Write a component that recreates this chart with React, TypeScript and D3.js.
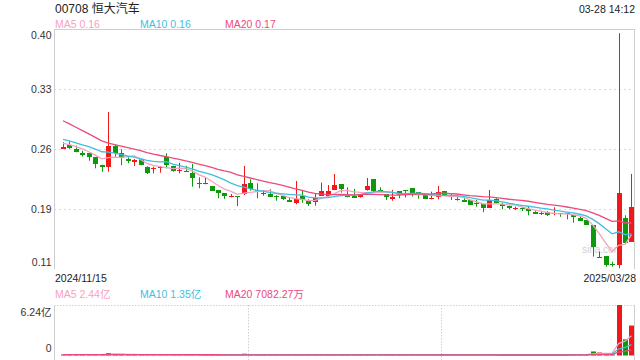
import React from 'react';
import * as d3 from 'd3';

// ---- data ----
const title = '00708 恒大汽车';
const timeLabel = '03-28 14:12';
const dateLabels = ['2024/11/15', '2025/03/28'];
const maNames = ['MA5', 'MA10', 'MA20'];
const maPeriods = [5, 10, 20];
const priceMaTexts = ['0.16', '0.16', '0.17'];
const volumeMaTexts = ['2.44亿', '1.35亿', '7082.27万'];
const priceTickLabels = ['0.40', '0.33', '0.26', '0.19', '0.11'];
const priceDomain = [0.114, 0.4];
const volumeTickLabels = ['6.24亿', '0'];
const volumeMax = 6.24; // 亿
const watermark = 'sina.com';

// closes of the 19 sessions before the first visible candle (MA warm-up)
const priorCloses = [0.335, 0.332, 0.33, 0.326, 0.322, 0.318, 0.316, 0.29, 0.282, 0.277,
  0.278, 0.276, 0.273, 0.271, 0.269, 0.266, 0.265, 0.264, 0.2643];
const priorVolumes = [0.12, 0.1, 0.09, 0.14, 0.11, 0.08, 0.1, 0.13, 0.09, 0.08,
  0.11, 0.1, 0.09, 0.12, 0.08, 0.1, 0.09, 0.11, 0.1];

const opens = [0.257, 0.262, 0.257, 0.252, 0.252, 0.2475, 0.238, 0.235, 0.261, 0.252,
  0.245, 0.242, 0.245, 0.236, 0.233, 0.235, 0.247, 0.237, 0.231, 0.231,
  0.228, 0.217, 0.216, 0.213, 0.208, 0.205, 0.2, 0.201, 0.203, 0.2165,
  0.208, 0.204, 0.203, 0.2007, 0.201, 0.1966, 0.193, 0.201, 0.195, 0.1935,
  0.2014, 0.201, 0.208, 0.2153, 0.201, 0.201, 0.2, 0.208, 0.221, 0.208,
  0.2034, 0.198, 0.2066, 0.208, 0.2105, 0.2058, 0.203, 0.197, 0.2, 0.2066,
  0.201, 0.1978, 0.1963, 0.1963, 0.193, 0.191, 0.187, 0.197, 0.192, 0.1895,
  0.185, 0.1863, 0.186, 0.1817, 0.179, 0.1816, 0.179, 0.1804, 0.181, 0.1784,
  0.1745, 0.1724, 0.1665, 0.128, 0.1295, 0.1196, 0.119, 0.175, 0.1466];
const closes = [0.2597, 0.2582, 0.253, 0.25, 0.2478, 0.2395, 0.2359, 0.2606, 0.2526, 0.246,
  0.2431, 0.2435, 0.2376, 0.2288, 0.234, 0.2356, 0.2383, 0.2312, 0.2324, 0.23,
  0.2228, 0.2157, 0.217, 0.2073, 0.205, 0.2014, 0.2014, 0.1995, 0.2153, 0.209,
  0.2066, 0.205, 0.2002, 0.1995, 0.1975, 0.1942, 0.1975, 0.1959, 0.1918, 0.199,
  0.207, 0.207, 0.2141, 0.2097, 0.2002, 0.1986, 0.2034, 0.2129, 0.2073, 0.2066,
  0.2002, 0.1995, 0.2022, 0.207, 0.2042, 0.2019, 0.1975, 0.1983, 0.2054, 0.2022,
  0.1995, 0.1966, 0.1939, 0.1903, 0.1912, 0.1869, 0.1963, 0.1931, 0.1891, 0.1867,
  0.1863, 0.1852, 0.1828, 0.1797, 0.1804, 0.178, 0.1811, 0.1792, 0.1792, 0.1757,
  0.1712, 0.1665, 0.1406, 0.1287, 0.1188, 0.1184, 0.205, 0.1454, 0.1876];
const highs = [0.265, 0.266, 0.261, 0.255, 0.2523, 0.2475, 0.2383, 0.301, 0.2622, 0.2567,
  0.2471, 0.2451, 0.245, 0.2364, 0.2359, 0.2368, 0.2519, 0.237, 0.2407, 0.2368,
  0.2392, 0.2233, 0.2228, 0.213, 0.2082, 0.2046, 0.2034, 0.201, 0.2368, 0.2209,
  0.2161, 0.2082, 0.209, 0.2019, 0.201, 0.1986, 0.2189, 0.2073, 0.1971, 0.2042,
  0.2169, 0.2141, 0.2272, 0.2153, 0.2114, 0.2094, 0.2034, 0.2225, 0.221, 0.2114,
  0.2034, 0.2082, 0.2066, 0.2082, 0.2105, 0.2058, 0.2031, 0.2062, 0.2129, 0.2066,
  0.2042, 0.2002, 0.1983, 0.1963, 0.1963, 0.191, 0.2082, 0.1983, 0.1931, 0.1895,
  0.1883, 0.1875, 0.1883, 0.1829, 0.1823, 0.1827, 0.1875, 0.1804, 0.181, 0.1784,
  0.1772, 0.1724, 0.1665, 0.1347, 0.1295, 0.1227, 0.395, 0.178, 0.2273];
const lows = [0.257, 0.2573, 0.253, 0.248, 0.243, 0.234, 0.23, 0.23, 0.2479, 0.2376,
  0.24, 0.2368, 0.2376, 0.2272, 0.228, 0.2288, 0.234, 0.23, 0.228, 0.2296,
  0.2121, 0.2102, 0.2149, 0.2073, 0.1983, 0.1975, 0.1994, 0.1891, 0.2022, 0.2073,
  0.1983, 0.2014, 0.2002, 0.1954, 0.1963, 0.1942, 0.1911, 0.193, 0.1891, 0.1895,
  0.2014, 0.1998, 0.208, 0.205, 0.1995, 0.1986, 0.199, 0.2073, 0.2055, 0.205,
  0.1963, 0.1954, 0.1983, 0.1994, 0.2002, 0.1978, 0.1975, 0.197, 0.1971, 0.2022,
  0.1963, 0.1954, 0.1939, 0.1903, 0.1883, 0.1817, 0.187, 0.1923, 0.1852, 0.1852,
  0.1843, 0.1831, 0.178, 0.1796, 0.1784, 0.1772, 0.178, 0.1763, 0.1732, 0.1692,
  0.1712, 0.1665, 0.1287, 0.128, 0.1168, 0.1168, 0.1149, 0.1438, 0.1466];
// volumes in 亿
const volumes = [0.12, 0.08, 0.1, 0.09, 0.1, 0.12, 0.09, 0.3, 0.15, 0.1,
  0.06, 0.05, 0.07, 0.1, 0.05, 0.05, 0.12, 0.07, 0.06, 0.05,
  0.11, 0.08, 0.05, 0.07, 0.06, 0.06, 0.04, 0.08, 0.22, 0.12,
  0.07, 0.05, 0.06, 0.04, 0.05, 0.05, 0.14, 0.08, 0.06, 0.09,
  0.12, 0.1, 0.15, 0.1, 0.06, 0.06, 0.05, 0.12, 0.14, 0.07,
  0.06, 0.06, 0.07, 0.05, 0.06, 0.06, 0.07, 0.05, 0.09, 0.06,
  0.05, 0.04, 0.05, 0.06, 0.05, 0.07, 0.1, 0.06, 0.06, 0.06,
  0.05, 0.05, 0.07, 0.06, 0.05, 0.07, 0.08, 0.06, 0.11, 0.12,
  0.14, 0.17, 0.5, 0.37, 0.15, 0.11, 6.24, 2.0, 3.7];

// ---- styles ----
const RED = '#f21818';
const GREEN = '#0c9a0c';
const MA_COLORS = ['#f7a1c1', '#3fc0e0', '#ec4a7c'];
const FONT = '"Liberation Sans", Arial, "Noto Sans CJK SC", sans-serif';

function movingAverage(all: number[], offset: number, period: number): number[] {
  const out: number[] = [];
  for (let i = 0; i < all.length - offset; i++) {
    const end = i + offset;
    const slice = all.slice(end - period + 1, end + 1);
    out.push(d3.mean(slice) as number);
  }
  return out;
}

export default function App() {
  const n = closes.length;
  const left = 54, right = 635;
  const top = 29, bottom = 269;
  const vTop = 305, vBottom = 355.5;

  const x = d3.scaleBand<number>().domain(d3.range(n)).range([59.77, 634.7]);
  const center = (i: number) => (x(i) as number) + x.bandwidth() / 2;
  const px = (i: number) => Math.round(center(i));

  const y = d3.scaleLinear().domain(priceDomain).range([bottom, top]);
  const vy = d3.scaleLinear().domain([0, volumeMax]).range([vBottom, vTop]);

  const allCloses = priorCloses.concat(closes);
  const allVolumes = priorVolumes.concat(volumes);
  const off = priorCloses.length;
  const priceMAs = maPeriods.map((p) => movingAverage(allCloses, off, p));
  const volMAs = maPeriods.map((p) => movingAverage(allVolumes, off, p));

  const priceLine = d3.line<number>().x((_, i) => center(i)).y((d) => y(d));
  const volLine = d3.line<number>().x((_, i) => center(i)).y((d) => vy(d));

  const tickYs = priceTickLabels.map((_, k) =>
    y(priceDomain[1] - (k * (priceDomain[1] - priceDomain[0])) / (priceTickLabels.length - 1)));

  const legendX = [55, 140, 225];
  const thirds = [1, 2].map((k) => Math.round(left + ((right - left) * k) / 3) + 0.5);

  return (
    <svg width={640} height={360} style={{ position: 'absolute', left: 0, top: 0, background: '#fff' }}
      fontFamily={FONT}>
      {/* header */}
      <text x={55} y={13} fontSize={12} fill="#222">{title}</text>
      <text x={635} y={13} fontSize={10.5} fill="#222" textAnchor="end">{timeLabel}</text>
      {maNames.map((m, k) => (
        <text key={m} x={legendX[k]} y={27.5} fontSize={10.5} fill={MA_COLORS[k]}>
          {m} {priceMaTexts[k]}
        </text>
      ))}

      {/* price frame & grid */}
      {tickYs.slice(1, -1).map((ty, k) => (
        <line key={k} x1={left} x2={right} y1={Math.round(ty) + 0.5} y2={Math.round(ty) + 0.5}
          stroke="#d9d9d9" strokeDasharray="2,3" />
      ))}
      <line x1={left} x2={right + 0.5} y1={top + 0.5} y2={top + 0.5} stroke="#cfcfcf" />
      <line x1={left + 0.5} x2={left + 0.5} y1={top} y2={bottom} stroke="#cfcfcf" />
      <line x1={right - 0.5} x2={right - 0.5} y1={top} y2={bottom} stroke="#cfcfcf" />
      {priceTickLabels.map((t, k) => {
        let ty = tickYs[k] + 3.8;
        if (k === 0) ty = tickYs[k] + 9.5;
        if (k === priceTickLabels.length - 1) ty = tickYs[k] - 3;
        return (
          <text key={t + k} x={51.5} y={ty} fontSize={10.5} fill="#333" textAnchor="end">{t}</text>
        );
      })}

      {/* watermark */}
      <text x={582} y={253} fontSize={10} fill="#cfcfcf">{watermark}</text>

      {/* candles */}
      {closes.map((c, i) => {
        const o = opens[i];
        const up = c >= o;
        const color = up ? RED : GREEN;
        const cxp = px(i);
        const yTop = Math.round(y(Math.max(o, c)));
        const yBot = Math.round(y(Math.min(o, c)));
        const h = Math.max(1, yBot - yTop);
        return (
          <g key={i}>
            <line x1={cxp + 0.5} x2={cxp + 0.5} y1={y(highs[i])} y2={y(lows[i])} stroke={color} strokeWidth={1} />
            <rect x={cxp - 2} y={yTop} width={5} height={h} fill={color} />
          </g>
        );
      })}

      {/* price MAs */}
      {priceMAs.map((ma, k) => (
        <path key={k} d={priceLine(ma) || ''} fill="none" stroke={MA_COLORS[k]} strokeWidth={1.3} />
      ))}

      {/* axis dates */}
      <text x={55} y={281.5} fontSize={10.5} fill="#222">{dateLabels[0]}</text>
      <text x={636} y={281.5} fontSize={10.5} fill="#222" textAnchor="end">{dateLabels[1]}</text>

      {/* volume legend */}
      {maNames.map((m, k) => (
        <text key={'v' + m} x={legendX[k]} y={297.5} fontSize={10.5} fill={MA_COLORS[k]}>
          {m} {volumeMaTexts[k]}
        </text>
      ))}

      {/* volume frame */}
      <line x1={left} x2={right} y1={vTop + 0.5} y2={vTop + 0.5} stroke="#d0d0d0" strokeDasharray="1.5,1.5" />
      {thirds.map((tx) => (
        <line key={tx} x1={tx} x2={tx} y1={vTop} y2={360} stroke="#d0d0d0" strokeDasharray="1.5,1.5" />
      ))}
      <line x1={left + 0.5} x2={left + 0.5} y1={vTop} y2={360} stroke="#cfcfcf" />
      <line x1={right - 0.5} x2={right - 0.5} y1={vTop} y2={360} stroke="#cfcfcf" />
      <text x={51.5} y={316} fontSize={10.5} fill="#333" textAnchor="end">{volumeTickLabels[0]}</text>
      <text x={51.5} y={351.5} fontSize={10.5} fill="#333" textAnchor="end">{volumeTickLabels[1]}</text>

      {/* volume bars */}
      {volumes.map((v, i) => {
        const up = closes[i] >= opens[i];
        const yv = vy(v);
        const h = Math.max(1, vBottom - yv);
        return <rect key={i} x={px(i) - 2} y={vBottom - h} width={5} height={h} fill={up ? RED : GREEN} />;
      })}
      {volMAs.map((ma, k) => (
        <path key={k} d={volLine(ma) || ''} fill="none" stroke={MA_COLORS[k]} strokeWidth={1.3} />
      ))}
    </svg>
  );
}
